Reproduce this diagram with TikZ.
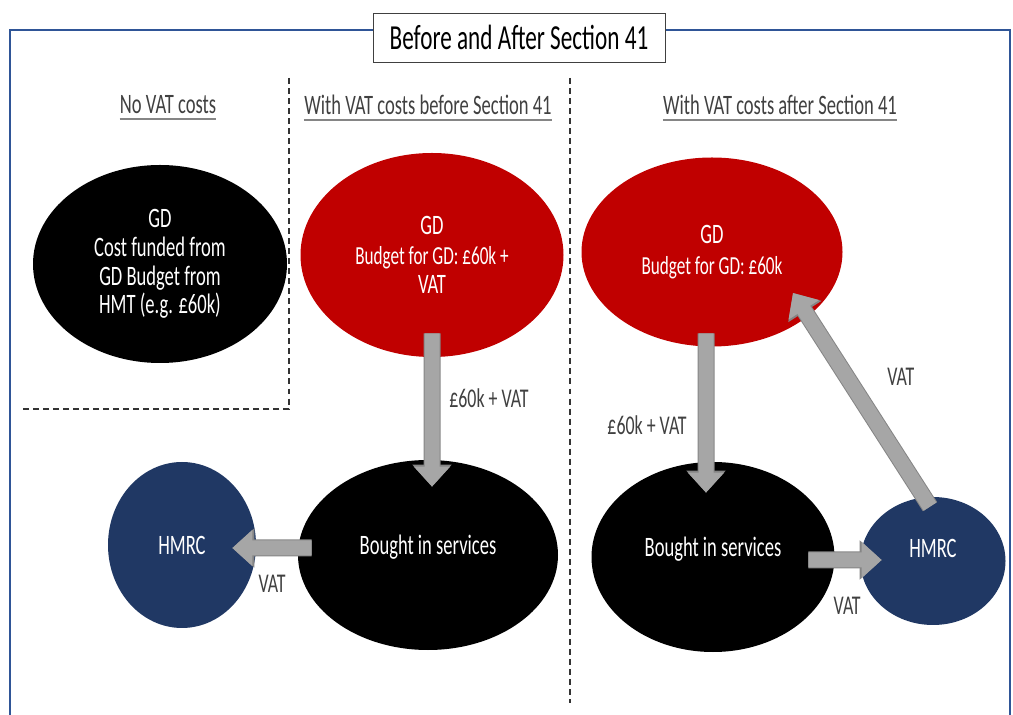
\documentclass[tikz,border=0pt]{standalone}
\usepackage{fontspec}
\setmainfont{Carlito}[FakeStretch=0.66]
\usetikzlibrary{shapes.geometric,arrows.meta}
\definecolor{gdred}{HTML}{C00000}
\definecolor{hmrcblue}{HTML}{203864}
\definecolor{flowgray}{HTML}{A6A6A6}
\definecolor{flowedge}{HTML}{858585}
\definecolor{frameblue}{HTML}{2F5597}
\definecolor{labgray}{HTML}{404040}

\begin{document}
\begin{tikzpicture}[
    blob/.style={ellipse, inner sep=0pt, text=white, align=center,
        font=\fontsize{16}{16.4}\selectfont},
    raised/.style={text height=0.35cm, text depth=0.37cm},
    flow/.style={draw=flowgray, line width=0.3cm,
        -{Triangle[width=0.7cm,length=0.4cm]},
        preaction={draw=flowedge, line width=0.34cm,
            -{Triangle[width=0.76cm,length=0.44cm]}}},
    lab/.style={text=labgray, font=\fontsize{15.4}{16}\selectfont},
    head/.style={text=labgray, inner sep=0pt, font=\fontsize{16}{17}\selectfont}]
    \useasboundingbox (0,0) rectangle (20.26,-14.3);

    % frame and title
    \draw[frameblue, line width=1.3pt] (0.2,-14.6) -- (0.2,-0.6) -- (20.2,-0.6) -- (20.2,-14.6);
    \node[draw=black!75, fill=white, minimum width=5.84cm, minimum height=0.98cm,
        font=\fontsize{20}{22}\selectfont] (ttl) at (10.38,-0.75) {Before and After Section 41};

    % column headings
    \node[head] (h1) at (3.36,-2.1) {No VAT costs};
    \node[head] (h2) at (8.56,-2.1) {With VAT costs before Section 41};
    \node[head] (h3) at (15.6,-2.1) {With VAT costs after Section 41};
    \foreach \h in {h1,h2,h3}
        \draw[flowedge, line width=0.8pt] ([yshift=-3pt]\h.base west) -- ([yshift=-3pt]\h.base east);

    % separators
    \draw[dash pattern=on 3.4pt off 2.3pt, black!80, line width=0.8pt]
        (5.78,-1.56) -- (5.78,-8.18) -- (0.44,-8.18);
    \draw[dash pattern=on 3.4pt off 2.3pt, black!80, line width=0.8pt]
        (11.4,-1.56) -- (11.4,-14.06);

    % no VAT
    \node[blob, fill=black, minimum width=5.08cm, minimum height=3.96cm] (gdn) at (3.2,-5.28)
        {GD\\Cost funded from\\GD Budget from\\HMT (e.g. £60k)};

    % before Section 41
    \node[blob, fill=gdred, minimum width=5.26cm, minimum height=4.08cm] (gdb) at (8.64,-5.1)
        {GD\\[1pt]\fontsize{14.8}{15.3}\selectfont Budget for GD: £60k +\\VAT};
    \node[blob, raised, fill=black, minimum width=5.2cm, minimum height=3.8cm] (bgb) at (8.56,-11.1)
        {Bought in services};
    \node[blob, fill=hmrcblue, minimum width=2.96cm, minimum height=3.32cm] (hmb) at (3.64,-10.9)
        {HMRC};

    \draw[flow] ([yshift=0.48cm]gdb.south) --
        node[lab, right=0.08cm, pos=0.42] {£60k + VAT} ([xshift=0.08cm,yshift=-0.54cm]bgb.north);
    \draw[flow] ([xshift=0.28cm,yshift=0.14cm]bgb.west) --
        node[lab, below=0.28cm, pos=0.5] {VAT} ([xshift=-0.48cm,yshift=-0.06cm]hmb.east);

    % after Section 41
    \node[blob, fill=gdred, minimum width=5.22cm, minimum height=3.78cm] (gda) at (14.24,-5.04)
        {GD\\[1pt]\fontsize{14.8}{15.3}\selectfont Budget for GD: £60k};
    \node[blob, raised, fill=black, minimum width=4.86cm, minimum height=3.8cm] (bga) at (14.26,-11.14)
        {Bought in services};
    \node[blob, fill=hmrcblue, minimum width=2.9cm, minimum height=2.56cm,
        text height=0.3cm, text depth=0.44cm] (hma) at (18.66,-11.22) {HMRC};

    \draw[flow] ([xshift=-0.12cm,yshift=0.27cm]gda.south) --
        node[lab, left=0.12cm, pos=0.575] {£60k + VAT} ([xshift=-0.14cm,yshift=-0.62cm]bga.north);
    \draw[flow] ([xshift=-0.53cm,yshift=-0.06cm]bga.east) --
        node[lab, below=0.48cm, pos=0.53] {VAT} ([xshift=0.43cm,yshift=0.02cm]hma.west);
    \draw[flow] ([xshift=-0.06cm,yshift=-0.2cm]hma.north) --
        node[lab, right=0.55cm, pos=0.61] {VAT} ([shift={(1.62,-0.82)}]gda.center);
\end{tikzpicture}
\end{document}
